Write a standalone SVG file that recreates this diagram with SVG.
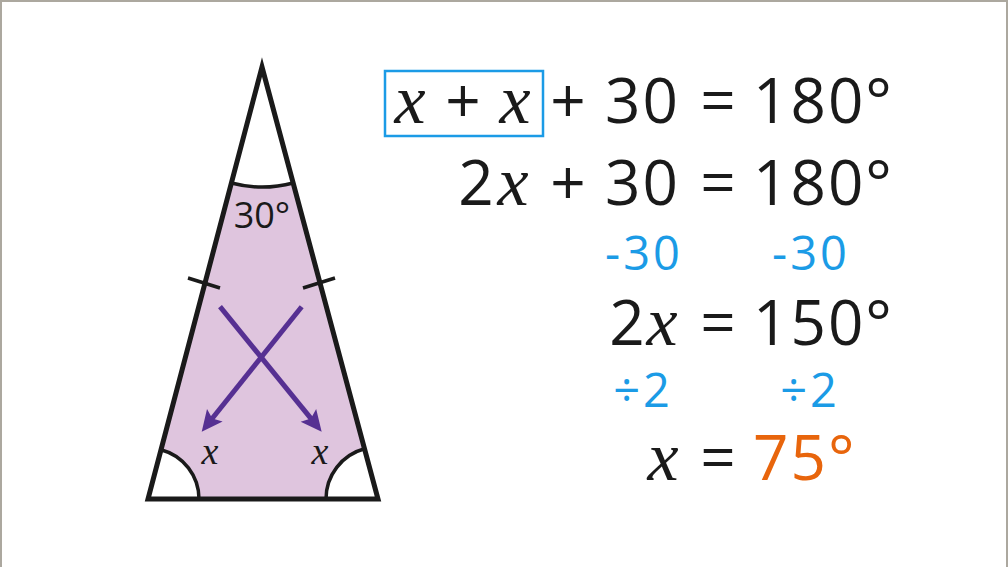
<svg xmlns="http://www.w3.org/2000/svg" width="1008" height="567" viewBox="0 0 1008 567">
<style>
.eq{font-family:"Open Sans","Liberation Sans",sans-serif;font-size:62px;font-weight:500;fill:#1a1a1a;letter-spacing:2px}
.bl{font-family:"Open Sans","Liberation Sans",sans-serif;font-size:47px;font-weight:500;fill:#1b9be6;letter-spacing:3px}
.var{font-family:"Liberation Serif","DejaVu Serif",serif;font-style:italic;font-size:70px;fill:#1a1a1a}
.sv{font-family:"Liberation Serif","DejaVu Serif",serif;font-style:italic;font-size:38px;fill:#1a1a1a}
.ln{fill:none;stroke:#1a1a1a;stroke-width:3.5}
.arr{fill:none;stroke:#563092;stroke-width:5}
</style>
<defs>
<marker id="ah" markerUnits="userSpaceOnUse" orient="auto" refX="0" refY="0" markerWidth="30" markerHeight="30" overflow="visible">
<path d="M12,0 L-9,-10 L-5,0 L-9,10 Z" fill="#563092"/>
</marker>
</defs>
<rect width="1008" height="567" fill="#fff"/>
<path d="M1,567 V1 H1007 V567" fill="none" stroke="#aca89f" stroke-width="2"/>
<g id="triangle">
<path d="M231.4,183 A120,120 0 0 0 293.1,183 L364.5,448.8 A52,52 0 0 0 326,499 L199,499 A51,51 0 0 0 161,449.7 Z" fill="#dfc5de"/>
<path class="ln" d="M231.4,183 A120,120 0 0 0 293.1,183"/>
<path class="ln" d="M364.5,448.8 A52,52 0 0 0 326,499"/>
<path class="ln" d="M199,499 A51,51 0 0 0 161,449.7"/>
<path d="M262,67 L378,499 L148,499 Z" fill="none" stroke="#1a1a1a" stroke-width="5" stroke-linejoin="miter"/>
<path class="ln" d="M188,278 L220,288 M303,288 L335,278"/>
<text x="262" y="228" text-anchor="middle" font-family="'Open Sans','Liberation Sans',sans-serif" font-size="36" font-weight="500" fill="#1a1a1a">30°</text>
<text class="sv" x="210" y="464" text-anchor="middle">x</text>
<text class="sv" x="320" y="464" text-anchor="middle">x</text>
</g>
<g id="connectors">
<path class="arr" d="M220,306.7 L314.1,422.4" marker-end="url(#ah)"/>
<path class="arr" d="M301.7,306.7 L209.2,422.3" marker-end="url(#ah)"/>
</g>
<g id="eq1">
<rect x="385" y="71" width="158" height="65" fill="none" stroke="#1b9be6" stroke-width="2.5"/>
<text class="var" x="410" y="123" text-anchor="middle">x</text>
<text class="eq" x="464" y="123" text-anchor="middle">+</text>
<text class="var" x="515" y="123" text-anchor="middle">x</text>
<text class="eq" x="569" y="123" text-anchor="middle">+</text>
<text class="eq" x="605" y="123" letter-spacing="3">30</text>
<text class="eq" x="719" y="123" text-anchor="middle">=</text>
<text class="eq" x="753" y="123">180°</text>
</g>
<g id="eq2">
<text class="eq" x="477" y="205" text-anchor="middle">2</text>
<text class="var" x="513" y="205" text-anchor="middle">x</text>
<text class="eq" x="569" y="205" text-anchor="middle">+</text>
<text class="eq" x="605" y="205" letter-spacing="3">30</text>
<text class="eq" x="719" y="205" text-anchor="middle">=</text>
<text class="eq" x="753" y="205">180°</text>
</g>
<g id="step1">
<text class="bl" x="644" y="270" text-anchor="middle">-30</text>
<text class="bl" x="811" y="270" text-anchor="middle">-30</text>
</g>
<g id="eq3">
<text class="eq" x="628" y="345" text-anchor="middle">2</text>
<text class="var" x="662" y="345" text-anchor="middle">x</text>
<text class="eq" x="719" y="345" text-anchor="middle">=</text>
<text class="eq" x="753" y="345">150°</text>
</g>
<g id="step2">
<text class="bl" x="643" y="407" text-anchor="middle">÷2</text>
<text class="bl" x="810" y="407" text-anchor="middle">÷2</text>
</g>
<g id="eq4">
<text class="var" x="663" y="480" text-anchor="middle">x</text>
<text class="eq" x="719" y="480" text-anchor="middle">=</text>
<text class="eq" x="753" y="480" style="fill:#e8650c">75°</text>
</g>
</svg>
